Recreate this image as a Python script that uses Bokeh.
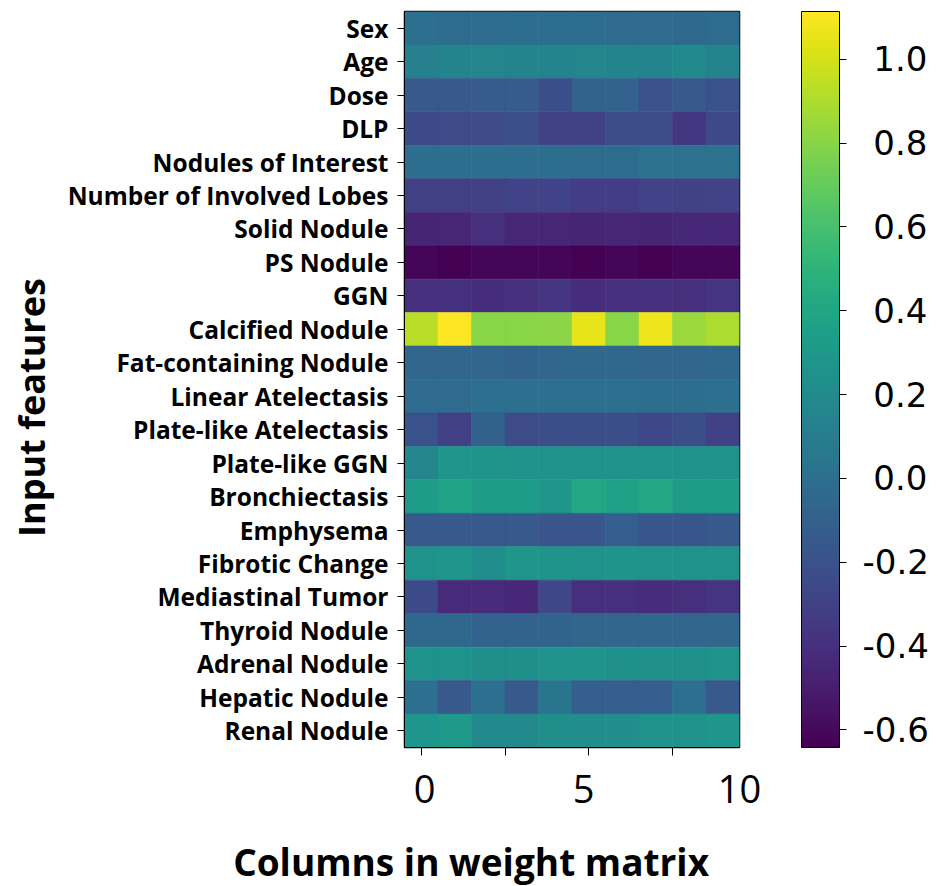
from bokeh.plotting import figure
from bokeh.models import (ColumnDataSource, LinearColorMapper, ColorBar, FixedTicker,
                          FactorRange, PrintfTickFormatter)
from bokeh.transform import transform
from bokeh.palettes import Viridis256
from bokeh.embed import file_html
from bokeh.resources import INLINE

features = ["Sex", "Age", "Dose", "DLP", "Nodules of Interest", "Number of Involved Lobes",
            "Solid Nodule", "PS Nodule", "GGN", "Calcified Nodule", "Fat-containing Nodule",
            "Linear Atelectasis", "Plate-like Atelectasis", "Plate-like GGN", "Bronchiectasis",
            "Emphysema", "Fibrotic Change", "Mediastinal Tumor", "Thyroid Nodule",
            "Adrenal Nodule", "Hepatic Nodule", "Renal Nodule"]
columns = list(range(10))

w_sex = [0.00, -0.02, -0.02, -0.01, -0.01, -0.01, -0.03, -0.03, -0.04, -0.02]
w_age = [0.12, 0.15, 0.16, 0.14, 0.15, 0.16, 0.15, 0.15, 0.19, 0.14]
w_dose = [-0.15, -0.15, -0.14, -0.14, -0.22, -0.09, -0.09, -0.19, -0.15, -0.20]
w_dlp = [-0.25, -0.24, -0.24, -0.21, -0.30, -0.30, -0.23, -0.23, -0.36, -0.25]
w_noi = [-0.01, -0.01, -0.01, -0.01, -0.01, -0.02, -0.02, 0.02, 0.02, 0.02]
w_nil = [-0.31, -0.31, -0.31, -0.29, -0.29, -0.32, -0.32, -0.29, -0.30, -0.29]
w_solid = [-0.46, -0.45, -0.40, -0.45, -0.45, -0.46, -0.45, -0.46, -0.44, -0.44]
w_ps = [-0.62, -0.64, -0.61, -0.61, -0.61, -0.64, -0.61, -0.64, -0.62, -0.62]
w_ggn = [-0.40, -0.40, -0.41, -0.40, -0.38, -0.41, -0.40, -0.40, -0.40, -0.38]
w_calc = [0.93, 1.11, 0.80, 0.80, 0.81, 1.05, 0.80, 1.07, 0.85, 0.90]
w_fat = [-0.06, -0.06, -0.06, -0.08, -0.06, -0.05, -0.05, -0.06, -0.06, -0.05]
w_linear = [-0.03, -0.03, 0.00, 0.00, 0.00, 0.00, 0.00, -0.01, -0.01, 0.00]
w_plate_at = [-0.20, -0.31, -0.10, -0.24, -0.22, -0.22, -0.22, -0.26, -0.22, -0.30]
w_plate_ggn = [0.16, 0.28, 0.27, 0.26, 0.26, 0.26, 0.26, 0.26, 0.26, 0.26]
w_bronch = [0.32, 0.37, 0.33, 0.33, 0.29, 0.41, 0.36, 0.41, 0.32, 0.32]
w_emph = [-0.15, -0.15, -0.15, -0.15, -0.18, -0.18, -0.12, -0.17, -0.17, -0.15]
w_fibrotic = [0.26, 0.28, 0.22, 0.29, 0.27, 0.26, 0.27, 0.26, 0.25, 0.26]
w_medi = [-0.25, -0.43, -0.43, -0.44, -0.27, -0.40, -0.40, -0.41, -0.40, -0.38]
w_thyroid = [-0.05, -0.05, -0.09, -0.09, -0.08, -0.06, -0.06, -0.06, -0.06, -0.06]
w_adrenal = [0.25, 0.25, 0.23, 0.23, 0.26, 0.26, 0.24, 0.24, 0.24, 0.25]
w_hepatic = [0.00, -0.15, 0.00, -0.15, 0.04, -0.12, -0.12, -0.12, 0.00, -0.15]
w_renal = [0.28, 0.31, 0.20, 0.20, 0.23, 0.22, 0.22, 0.26, 0.26, 0.28]

weights = [w_sex, w_age, w_dose, w_dlp, w_noi, w_nil, w_solid, w_ps, w_ggn, w_calc, w_fat,
           w_linear, w_plate_at, w_plate_ggn, w_bronch, w_emph, w_fibrotic, w_medi,
           w_thyroid, w_adrenal, w_hepatic, w_renal]

x_tick_marks = [0, 2.5, 5, 7.5]
x_label_positions = [0.1, 4.85, 9.5]
x_label_texts = ["0", "5", "10"]
cbar_ticks = [-0.6, -0.4, -0.2, 0.0, 0.2, 0.4, 0.6, 0.8, 1.0]
cbar_low, cbar_high = -0.642, 1.114

x_title = "Columns in weight matrix"
y_title = "Input features"
NBSP = "\u00a0"

xs, ys, vals = [], [], []
for feat, row in zip(features, weights):
    for c, v in zip(columns, row):
        xs.append(c)
        ys.append(feat)
        vals.append(v)
source = ColumnDataSource(dict(x=xs, y=ys, v=vals))

mapper = LinearColorMapper(palette=Viridis256, low=cbar_low, high=cbar_high)

FONT = "Open Sans"
NUMFONT = "DejaVu Sans"

p = figure(frame_width=335, frame_height=736, output_backend="svg", toolbar_location=None,
           x_range=(-0.5, 9.5), y_range=FactorRange(factors=features[::-1]),
           min_border_left=404, min_border_top=11, min_border_right=0, min_border_bottom=0)
p.background_fill_color = "white"
p.border_fill_color = "white"
p.xgrid.visible = False
p.ygrid.visible = False
p.outline_line_color = "black"
p.outline_line_width = 1.5

p.rect(x="x", y="y", width=1, height=1, source=source,
       fill_color=transform("v", mapper), line_color=transform("v", mapper), line_width=0.6)

# y axis
ya = p.yaxis[0]
ya.major_label_text_font = FONT
ya.major_label_text_font_style = "bold"
ya.major_label_text_font_size = "24.5px"
ya.major_label_text_color = "black"
ya.major_tick_out = 7
ya.major_tick_in = 0
ya.major_tick_line_color = "black"
ya.axis_line_color = "black"
ya.major_label_standoff = 9
ya.axis_label = y_title + NBSP * 6
ya.axis_label_text_font = FONT
ya.axis_label_text_font_style = "bold"
ya.axis_label_text_font_size = "36px"
ya.axis_label_text_color = "black"
ya.axis_label_standoff = 9

# x axis: labels as major ticks (no marks), tick marks as minor ticks
xa = p.xaxis[0]
xa.ticker = FixedTicker(ticks=x_label_positions, minor_ticks=x_tick_marks)
xa.major_label_overrides = {k: t for k, t in zip(x_label_positions, x_label_texts)}
xa.major_tick_line_color = None
xa.minor_tick_line_color = "black"
xa.minor_tick_out = 8
xa.minor_tick_in = 0
xa.axis_line_color = "black"
xa.major_label_text_font = FONT
xa.major_label_text_font_size = "38px"
xa.major_label_text_color = "black"
xa.major_label_standoff = 19
xa.axis_label = x_title + NBSP * 21
xa.axis_label_text_font = FONT
xa.axis_label_text_font_style = "bold"
xa.axis_label_text_font_size = "37px"
xa.axis_label_text_color = "black"
xa.axis_label_standoff = 30

cb = ColorBar(color_mapper=mapper, width=38, height=736, location=(62, 0),
              padding=0, margin=0,
              ticker=FixedTicker(ticks=cbar_ticks),
              formatter=PrintfTickFormatter(format="%.1f"),
              major_label_overrides={t: NBSP + "%.1f" % t for t in cbar_ticks if t >= 0},
              major_tick_in=0, major_tick_out=7, major_tick_line_color="black",
              minor_tick_line_color=None,
              bar_line_color="black", bar_line_width=1,
              border_line_color=None, background_fill_color=None,
              major_label_text_font=NUMFONT, major_label_text_font_size="34px",
              major_label_text_color="black", label_standoff=16)
p.add_layout(cb, "right")

open("out.html", "w").write(file_html(p, INLINE))
